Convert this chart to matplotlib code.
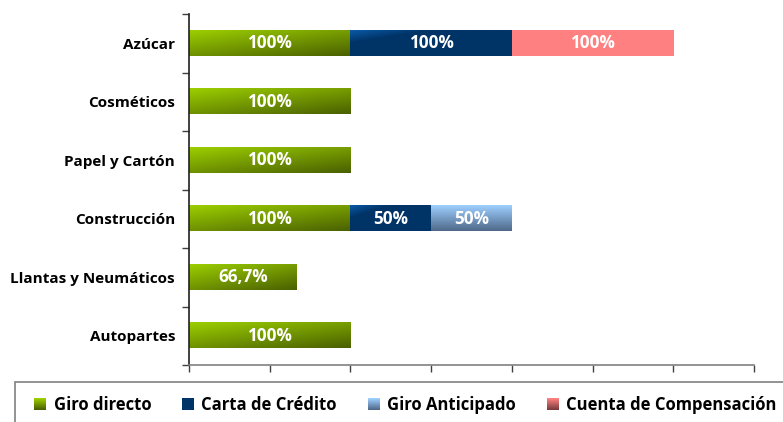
import numpy as np
import matplotlib
matplotlib.use("Agg")
import matplotlib.pyplot as plt
from matplotlib.colors import to_rgb
from matplotlib.patches import Patch, Rectangle
from matplotlib.legend_handler import HandlerBase

plt.rcParams['font.family'] = ['Open Sans', 'DejaVu Sans']
plt.rcParams['font.weight'] = 'bold'

categories = ["Azúcar", "Cosméticos", "Papel y Cartón", "Construcción",
              "Llantas y Neumáticos", "Autopartes"]
series_names = ["Giro directo", "Carta de Crédito", "Giro Anticipado",
                "Cuenta de Compensación"]
giro_directo = [1.0, 1.0, 1.0, 1.0, 0.667, 1.0]
carta_credito = [1.0, 0, 0, 0.5, 0, 0]
giro_anticipado = [0, 0, 0, 0.5, 0, 0]
cuenta_comp = [1.0, 0, 0, 0, 0, 0]
series_values = [giro_directo, carta_credito, giro_anticipado, cuenta_comp]

# gradient styles: (start colour, end colour, horizontal weight, vertical weight, scale)
grad = [
    ("#9ccf00", "#4a6000", 0.45, 0.55, 1.0),
    ("#0a5aa8", "#003366", 0.5, 0.5, 4.0),
    ("#9dcfff", "#50698a", 0.0, 1.0, 1.0),
    ("#ff8080", "#ff8080", 0.5, 0.5, 1.0),
]
legend_grad = [("#9ccf00", "#4a6000"), ("#003366", "#003366"),
               ("#9dcfff", "#50698a"), ("#ff8080", "#7a3c3c")]

W, H = 783, 422
fig = plt.figure(figsize=(W / 100, H / 100), dpi=100)
ax = fig.add_axes([189 / W, 1 - 365 / H, (754 - 189) / W, (365 - 14) / H])

n = len(categories)
ypos = np.arange(n)[::-1]
left = np.zeros(n)
bar_h = 0.43
FS = 11
BFS = 12.3


def fmt(v):
    p = v * 100
    if abs(p - round(p)) < 1e-6:
        return f"{int(round(p))}%"
    return f"{p:.1f}%".replace(".", ",")


for si, vals in enumerate(series_values):
    vals = np.array(vals, dtype=float)
    bars = ax.barh(ypos, vals, left=left, height=bar_h, color="none",
                   edgecolor="none", zorder=2)
    c0, c1, hw, vw, sc = grad[si]
    c0 = np.array(to_rgb(c0)); c1 = np.array(to_rgb(c1))
    for b, v in zip(bars, vals):
        if v <= 0:
            continue
        x0, y0, w, h = b.get_x(), b.get_y(), b.get_width(), b.get_height()
        ny, nx = 40, 120
        u = np.linspace(0, 1, nx)[None, :]
        t = np.linspace(0, 1, ny)[:, None]
        f = np.clip((hw * u + vw * t) * sc, 0, 1)
        img = c0[None, None, :] * (1 - f[..., None]) + c1[None, None, :] * f[..., None]
        ax.imshow(img, extent=[x0, x0 + w, y0, y0 + h], origin="upper",
                  aspect="auto", zorder=2, interpolation="bilinear")
        ax.text(x0 + w / 2, y0 + h / 2, fmt(v), color="white", ha="center",
                va="center", fontsize=BFS, fontweight="bold", zorder=3)
    left = left + vals

ax.set_xlim(0, 3.5)
ax.set_ylim(-0.5, n - 0.5)
ax.set_xticks(np.arange(0, 3.51, 0.5))
ax.set_xticklabels([])
ax.set_yticks(ypos)
ax.set_yticklabels(categories, fontsize=FS, fontweight="bold")
ax.set_yticks(np.arange(-0.5, n, 1.0), minor=True)
ax.tick_params(axis="y", which="major", length=0, pad=10)
ax.tick_params(axis="y", which="minor", length=5, color="#404040", width=1)
ax.tick_params(axis="x", length=5, color="#404040", width=1)
for s in ["top", "right"]:
    ax.spines[s].set_visible(False)
ax.spines["left"].set_color("#202020")
ax.spines["bottom"].set_color("#808080")
ax.spines["left"].set_linewidth(1.2)
ax.spines["bottom"].set_linewidth(1.2)


class GradHandler(HandlerBase):
    def __init__(self, c0, c1):
        super().__init__()
        self.c0 = np.array(to_rgb(c0))
        self.c1 = np.array(to_rgb(c1))

    def create_artists(self, legend, orig_handle, xdescent, ydescent,
                       width, height, fontsize, trans):
        arts = []
        k = 12
        for i in range(k):
            f = i / (k - 1)
            col = self.c0 * f + self.c1 * (1 - f)
            r = Rectangle((-xdescent, -ydescent + height * i / k), width,
                          height / k + 0.05, facecolor=col, edgecolor="none",
                          transform=trans)
            arts.append(r)
        return arts


# legend frame
fig.patches.append(Rectangle((15 / W, -0.2), 2, 0.2 + (H - 382) / H,
                             transform=fig.transFigure, fill=False,
                             edgecolor="#808080", linewidth=1.2))
handles = [Patch(facecolor=c0, edgecolor="none", label=nm)
           for (c0, c1), nm in zip(legend_grad, series_names)]
hmap = {h: GradHandler(c0, c1) for h, (c0, c1) in zip(handles, legend_grad)}
fig.legend(handles, series_names, loc="center left",
           bbox_to_anchor=(34 / W, 1 - 405 / H), ncol=4, frameon=False,
           handlelength=0.72, handleheight=0.72, handler_map=hmap,
           handletextpad=0.45, columnspacing=1.85, borderpad=0,
           borderaxespad=0, prop={"weight": "bold", "size": 12})

fig.savefig("out.png", dpi=100)
